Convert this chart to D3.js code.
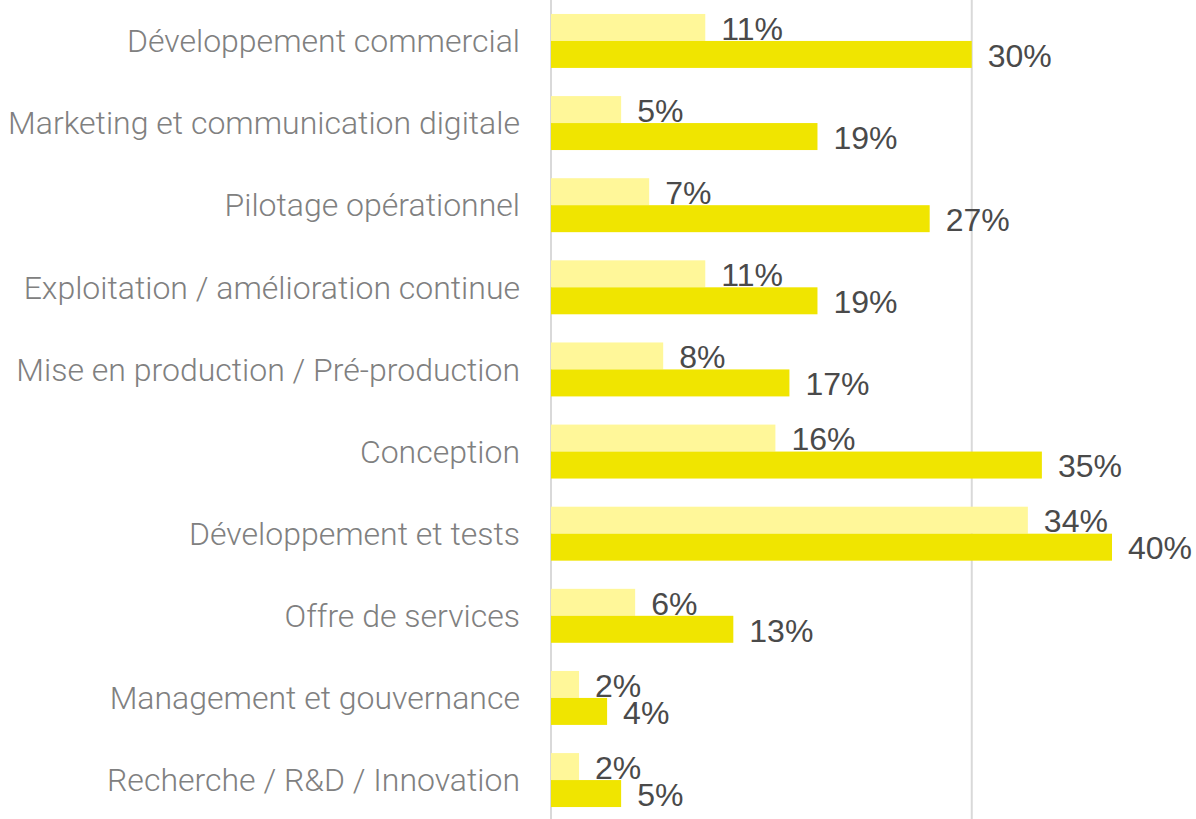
<!DOCTYPE html>
<html>
<head>
<meta charset="utf-8">
<script src="https://cdn.jsdelivr.net/npm/d3@7"></script>
<style>
  body { margin: 0; background: #fff; }
  svg { display: block; }
</style>
</head>
<body>
<svg id="chart" width="1196" height="819"></svg>
<script>
const categories = [
  "Développement commercial",
  "Marketing et communication digitale",
  "Pilotage opérationnel",
  "Exploitation / amélioration continue",
  "Mise en production / Pré-production",
  "Conception",
  "Développement et tests",
  "Offre de services",
  "Management et gouvernance",
  "Recherche / R&D / Innovation"
]
const lightValues = [11, 5, 7, 11, 8, 16, 34, 6, 2, 2]
const darkValues = [30, 19, 27, 19, 17, 35, 40, 13, 4, 5]
const gridTicks = [0, 30]

const svg = d3.select("#chart")

const x = d3.scaleLinear()
  .domain([0, 40])
  .range([551, 1112])

const y = d3.scaleBand()
  .domain(categories)
  .range([0, 821])
  .paddingInner(0.343)
  .paddingOuter(0.17)

const sub = d3.scaleBand()
  .domain(["light", "dark"])
  .range([0, y.bandwidth()])

// gridlines
svg.append("g")
  .selectAll("line")
  .data(gridTicks)
  .join("line")
    .attr("x1", d => x(d))
    .attr("x2", d => x(d))
    .attr("y1", 0)
    .attr("y2", 819)
    .attr("stroke", "#d9d9d9")
    .attr("stroke-width", 2)

const rows = categories.map((c, i) => ({ cat: c, light: lightValues[i], dark: darkValues[i] }))

const series = [
  { key: "light", color: "#fff799" },
  { key: "dark", color: "#f0e500" }
]

series.forEach(s => {
  svg.append("g")
    .selectAll("rect")
    .data(rows)
    .join("rect")
      .attr("x", x(0))
      .attr("y", d => y(d.cat) + sub(s.key))
      .attr("width", d => x(d[s.key]) - x(0))
      .attr("height", sub.bandwidth())
      .attr("fill", s.color)

  svg.append("g")
    .selectAll("text")
    .data(rows)
    .join("text")
      .attr("x", d => x(d[s.key]) + 16)
      .attr("y", d => y(d.cat) + sub(s.key) + sub.bandwidth() / 2 + 1)
      .attr("dy", "0.35em")
      .attr("font-family", "Liberation Sans, Arial, sans-serif")
      .attr("font-size", 32)
      .attr("fill", "#4a4a4a")
      .text(d => d[s.key] + "%")
})

// category labels
svg.append("g")
  .selectAll("text")
  .data(categories)
  .join("text")
    .attr("x", 520)
    .attr("y", d => y(d) + y.bandwidth() / 2)
    .attr("dy", "0.35em")
    .attr("text-anchor", "end")
    .attr("font-family", "Roboto, sans-serif")
    .attr("font-weight", 300)
    .attr("font-size", 32)
    .attr("fill", "#808080")
    .text(d => d)
</script>
</body>
</html>
